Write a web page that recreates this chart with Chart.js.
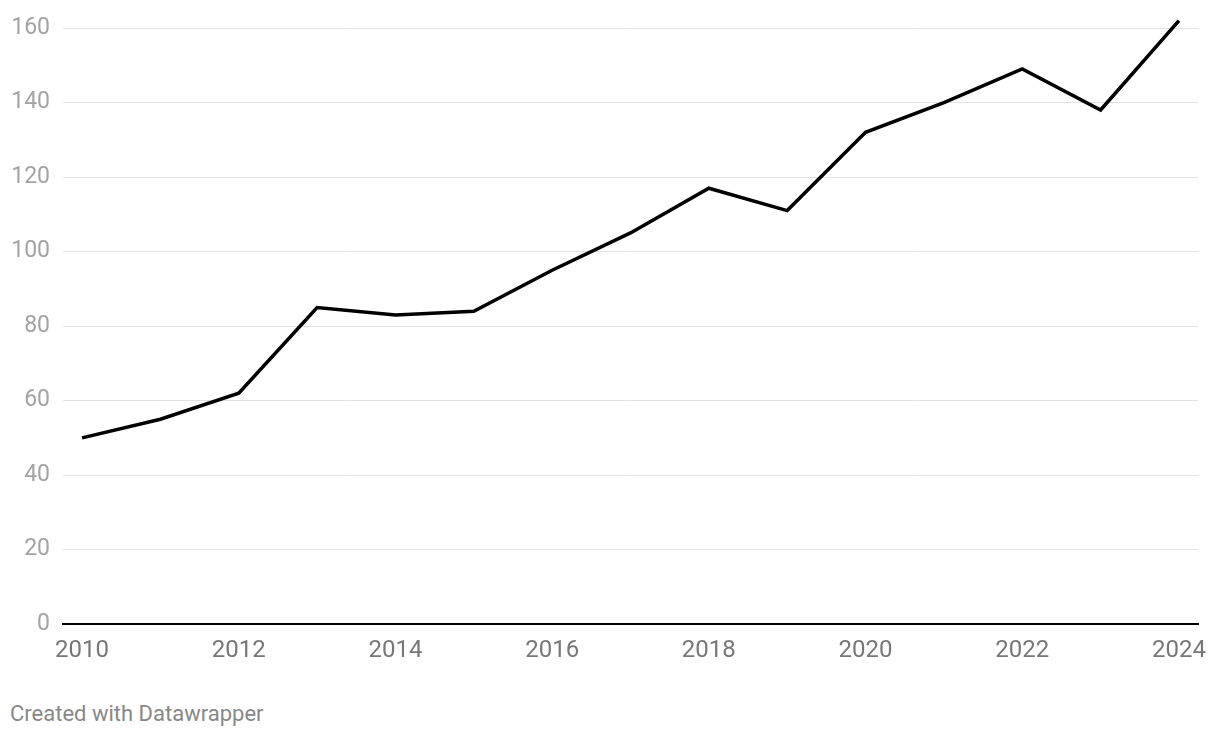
<!DOCTYPE html>
<html>
<head>
<meta charset="utf-8">
<script src="https://cdn.jsdelivr.net/npm/chart.js@4.4.1/dist/chart.umd.min.js"></script>
<style>
  html, body { margin: 0; padding: 0; background: #fff; }
  body { width: 1220px; height: 738px; position: relative; overflow: hidden; font-family: Roboto, sans-serif; }
  #wrap { position: absolute; left: 0; top: 0; width: 1220px; height: 677px; }
  #footer { position: absolute; left: 10px; top: 701px; font-size: 22px; color: #888; }
</style>
</head>
<body>
<div id="wrap"><canvas id="chart"></canvas></div>
<div id="footer">Created with Datawrapper</div>
<script>
const years = [2010, 2011, 2012, 2013, 2014, 2015, 2016, 2017, 2018, 2019, 2020, 2021, 2022, 2023, 2024];
const values = [50, 55, 62, 85, 83, 84, 95, 105, 117, 111, 132, 140, 149, 138, 162];
const xTicks = [2010, 2012, 2014, 2016, 2018, 2020, 2022, 2024];
const yTicks = [0, 20, 40, 60, 80, 100, 120, 140, 160];

const points = years.map((y, i) => ({ x: y, y: values[i] }));

new Chart(document.getElementById('chart'), {
    type: 'line',
    data: {
        datasets: [{
            data: points,
            borderColor: '#000',
            borderWidth: 3.5,
            pointRadius: 0,
            tension: 0,
            clip: false
        }]
    },
    options: {
        responsive: true,
        maintainAspectRatio: false,
        animation: false,
        layout: { padding: { top: 28, right: 22, left: 0, bottom: 0 } },
        plugins: { legend: { display: false }, tooltip: { enabled: false } },
        scales: {
            x: {
                type: 'linear',
                min: 2009.757,
                max: 2024.243,
                afterBuildTicks: scale => { scale.ticks = xTicks.map(v => ({ value: v })); },
                grid: { display: false, drawTicks: false },
                border: { display: true, color: '#000', width: 2 },
                ticks: {
                    color: '#777',
                    font: { family: 'Roboto', size: 24 },
                    padding: 12,
                    maxRotation: 0,
                    autoSkip: false,
                    callback: v => String(v)
                }
            },
            y: {
                min: 0,
                max: 160,
                afterBuildTicks: scale => { scale.ticks = yTicks.map(v => ({ value: v })); },
                afterFit: scale => { scale.width = 63; },
                grid: { color: '#e2e2e2', lineWidth: 1, drawTicks: false },
                border: { display: false },
                ticks: {
                    color: '#a3a3a3',
                    font: { family: 'Roboto', size: 23 },
                    padding: 13
                }
            }
        }
    }
});
</script>
</body>
</html>
